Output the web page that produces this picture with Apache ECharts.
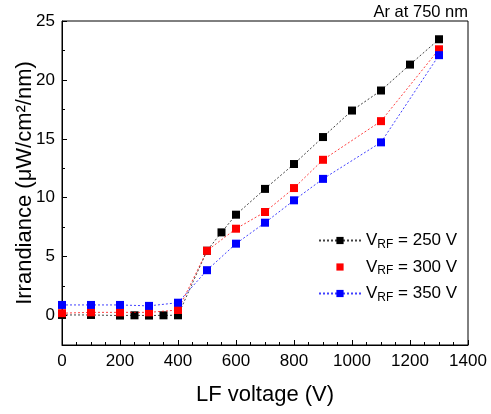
<!DOCTYPE html>
<html>
<head>
<meta charset="utf-8">
<script src="https://cdn.jsdelivr.net/npm/echarts@6/dist/echarts.min.js"></script>
<style>html,body{margin:0;padding:0;background:#fff}#c{width:491px;height:414px}</style>
</head>
<body>
<div id="c"></div>
<script>
// ---- data ----
var seriesNames = ['250', '300', '350'];
var x250 = [0, 100, 200, 250, 300, 350, 400, 500, 550, 600, 700, 800, 900, 1000, 1100, 1200, 1300];
var y250 = [0.05, 0.05, 0.0, 0.02, 0.0, 0.02, 0.02, 5.5, 7.06, 8.56, 10.75, 12.86, 15.15, 17.4, 19.1, 21.3, 23.45];
var x300 = [0, 100, 200, 300, 400, 500, 600, 700, 800, 900, 1100, 1300];
var y300 = [0.2, 0.27, 0.27, 0.27, 0.47, 5.5, 7.37, 8.79, 10.82, 13.22, 16.5, 22.6];
var x350 = [0, 100, 200, 300, 400, 500, 600, 700, 800, 900, 1100, 1300];
var y350 = [0.9, 0.9, 0.9, 0.82, 1.09, 3.85, 6.1, 7.88, 9.78, 11.6, 14.7, 22.1];
var yMajorTicks = [0, 5, 10, 15, 20, 25];
var yMinorTicks = [-2.5, 2.5, 7.5, 12.5, 17.5, 22.5];

function zip(xs, ys) { return xs.map(function (x, i) { return [x, ys[i]]; }); }

var colors = ['#000000', '#ff0000', '#0000ff'];
var datasets = [zip(x250, y250), zip(x300, y300), zip(x350, y350)];

var font = 'Liberation Sans, Arial, sans-serif';
var chart = echarts.init(document.getElementById('c'), null, { renderer: 'canvas' });

var series = seriesNames.map(function (n, i) {
  return {
    name: n,
    type: 'line',
    data: datasets[i],
    symbol: 'rect',
    symbolSize: 8,
    showSymbol: true,
    itemStyle: { color: colors[i] },
    lineStyle: { color: colors[i], width: 1, type: [2, 2], opacity: 0.75 },
    emphasis: { disabled: true },
    animation: false,
    z: 2 + i
  };
});

var option = {
  animation: false,
  title: {
    text: 'Ar at 750 nm',
    right: 23, top: 4, padding: 0,
    textStyle: { fontFamily: font, fontSize: 16.5, fontWeight: 'normal', color: '#000' }
  },
  grid: { left: 62, right: 23, top: 21, bottom: 69, show: true, borderColor: '#000', borderWidth: 1, containLabel: false, outerBoundsMode: 'none' },
  legend: {
    orient: 'vertical',
    left: 318, top: 232, padding: 0,
    itemWidth: 42, itemHeight: 9, itemGap: 8,
    data: [
      { name: '250' },
      { name: '300', lineStyle: { opacity: 0 } },
      { name: '350' }
    ],
    formatter: function (n) { return '{v|V}{s|RF}{v| = ' + n + ' V}'; },
    textStyle: {
      fontFamily: font, color: '#000',
      rich: {
        v: { fontFamily: font, fontSize: 17, color: '#000' },
        s: { fontFamily: font, fontSize: 12, color: '#000', verticalAlign: 'bottom', padding: [8, 0, 0, 0] }
      }
    }
  },
  xAxis: {
    type: 'value', min: 0, max: 1400, interval: 200,
    name: 'LF voltage (V)', nameLocation: 'middle', nameGap: 39, nameMoveOverlap: false,
    nameTextStyle: { fontFamily: font, fontSize: 22, color: '#000' },
    axisLine: { show: true, onZero: false, lineStyle: { color: '#000', width: 1 } },
    axisTick: { show: true, inside: true, length: 5, lineStyle: { color: '#000' } },
    minorTick: { show: true, splitNumber: 4, length: 3, lineStyle: { color: '#000' } },
    axisLabel: { fontFamily: font, fontSize: 17, color: '#000', margin: 8, formatter: function (v) { return String(v); } },
    splitLine: { show: false }
  },
  yAxis: [{
    type: 'value', min: -2.5, max: 25,
    name: 'Irrandiance (\u03bcW/cm\u00b2/nm)', nameLocation: 'middle', nameGap: 26, nameMoveOverlap: false,
    nameTextStyle: { fontFamily: font, fontSize: 22, color: '#000' },
    axisLine: { show: true, onZero: false, lineStyle: { color: '#000', width: 1 } },
    axisTick: { show: true, inside: true, length: 5, customValues: yMajorTicks, lineStyle: { color: '#000' } },
    axisLabel: { fontFamily: font, fontSize: 17, color: '#000', margin: 7, customValues: yMajorTicks },
    splitLine: { show: false }
  }, {
    type: 'value', min: -2.5, max: 25, position: 'left',
    axisLine: { show: false },
    axisTick: { show: true, inside: true, length: 3, customValues: yMinorTicks, lineStyle: { color: '#000' } },
    axisLabel: { show: false },
    splitLine: { show: false }
  }],
  series: series
};
chart.setOption(option);
</script>
</body>
</html>
